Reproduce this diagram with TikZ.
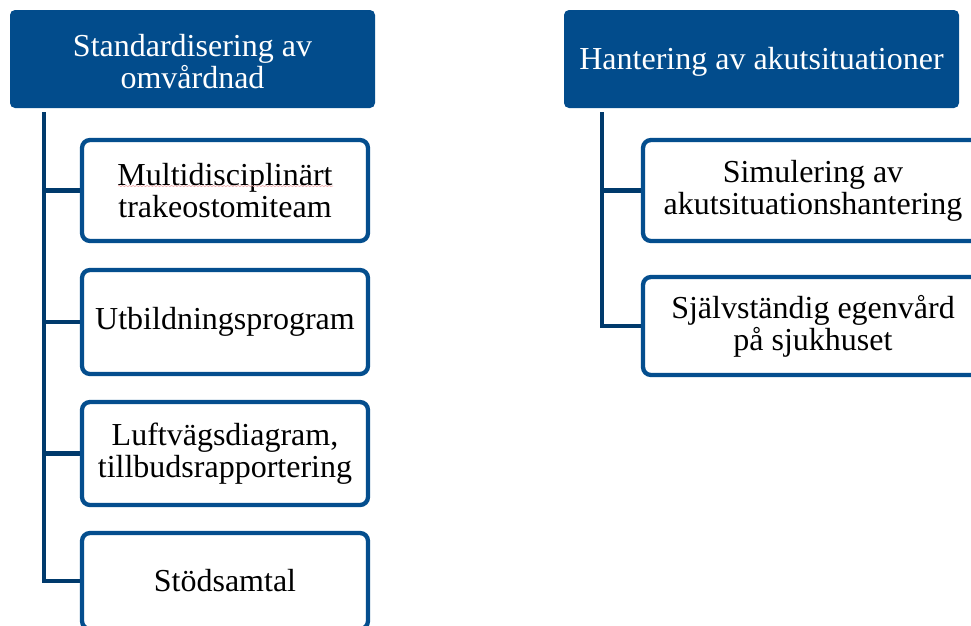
\documentclass[tikz,border=0pt]{standalone}
\usepackage{fontspec}
\setmainfont{Liberation Serif}
\usetikzlibrary{backgrounds,decorations.pathmorphing}
\definecolor{hdr}{RGB}{2,76,140}
\definecolor{bdr}{RGB}{4,78,142}
\definecolor{cn}{RGB}{0,58,108}
\definecolor{squig}{RGB}{240,170,170}
\begin{document}
\begin{tikzpicture}[x=1pt,y=-1pt,
  header/.style={fill=hdr, rounded corners=5pt, minimum width=365pt,
    minimum height=98pt, inner sep=0pt},
  htext/.style={yshift=-3pt, text=white, align=center,
    font=\fontsize{32}{32}\selectfont, inner sep=0pt},
  child/.style={draw=bdr, line width=4.3pt, fill=white, rounded corners=8pt,
    align=center, font=\fontsize{32}{32}\selectfont, inner sep=0pt},
  conn/.style={draw=cn, line width=4.3pt},
  spell/.style={draw=squig, line width=0.6pt, decorate,
    decoration={snake, amplitude=0.6pt, segment length=3.5pt}}]
\useasboundingbox (0,0) rectangle (971,625);
% left column
\node[header, label={[htext]center:{Standardisering av\\omvårdnad}}] (hL) at (192.5,59) {};
\node[child, minimum width=286pt, minimum height=101pt] (c1) at (225,190.5) {Multidisciplinärt\\trakeostomiteam};
\node[child, minimum width=286pt, minimum height=104pt] (c2) at (225,322) {Utbildningsprogram};
\node[child, minimum width=286pt, minimum height=103pt] (c3) at (225,453.5) {Luftvägsdiagram,\\tillbudsrapportering};
\node[child, minimum width=286pt, minimum height=96pt] (c4) at (225,581) {Stödsamtal};
% right column
\node[header, minimum width=395pt, label={[htext]center:Hantering av akutsituationer}] (hR) at (761.5,59) {};
\node[child, minimum width=340pt, minimum height=101pt] (d1) at (813,190.5) {Simulering av\\akutsituationshantering};
\node[child, minimum width=340pt, minimum height=98pt] (d2) at (813,326) {Självständig egenvård\\på sjukhuset};
% connectors
\begin{scope}[on background layer]
\coordinate (tL) at ([xshift=34pt,yshift=-4pt]hL.south west);
\coordinate (tR) at ([xshift=38pt,yshift=-4pt]hR.south west);
\foreach \c in {c1,c2,c3,c4} \draw[conn] (tL) |- (\c.west);
\foreach \c in {d1,d2} \draw[conn] (tR) |- (\c.west);
\end{scope}
% spell-check underline
\draw[spell] ([xshift=-107pt,yshift=4.5pt]c1.center) -- ([xshift=108pt,yshift=4.5pt]c1.center);
\end{tikzpicture}
\end{document}
